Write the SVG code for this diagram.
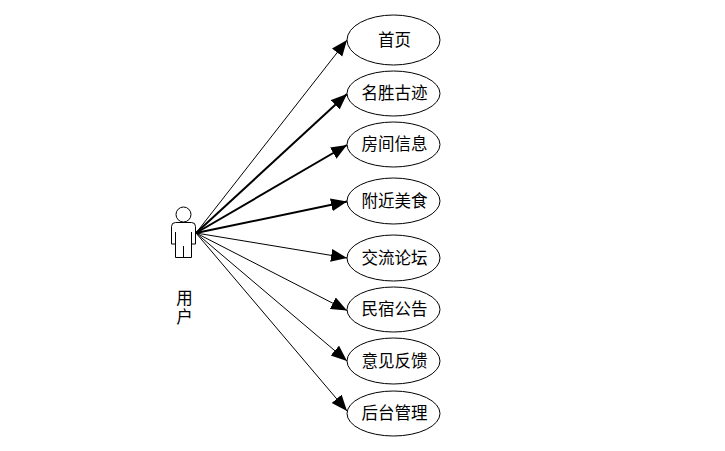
<svg xmlns="http://www.w3.org/2000/svg" width="725" height="451" viewBox="0 0 725 451">
<style>
.n{fill:#fff;stroke:#000;stroke-width:1}
.t{font-family:"Liberation Sans","Noto Sans CJK SC",sans-serif;font-size:16.500px;fill:#000;text-anchor:middle}
.c{fill:none;stroke:#000;stroke-width:1}
.b{stroke-width:2}
</style>
<defs>
<marker id="a" markerUnits="userSpaceOnUse" markerWidth="20" markerHeight="14" refX="16" refY="6.500" orient="auto"><path d="M0 0L16 6.500L0 13Z" fill="#000"/></marker>
</defs>
<rect width="725" height="451" fill="#fff"/>
<g id="connectors">
<path class="c" marker-end="url(#a)" d="M196 233L347 40"/>
<path class="c b" marker-end="url(#a)" d="M196 233L347 94"/>
<path class="c b" marker-end="url(#a)" d="M196 233L347 145"/>
<path class="c b" marker-end="url(#a)" d="M196 233L347 201.500"/>
<path class="c" marker-end="url(#a)" d="M196 233L347 258"/>
<path class="c" marker-end="url(#a)" d="M196 233L347 310.500"/>
<path class="c" marker-end="url(#a)" d="M196 233L347 361"/>
<path class="c" marker-end="url(#a)" d="M196 233L347 411"/>
</g>
<g id="actor">
<circle class="n" cx="183.5" cy="214.500" r="7.500"/>
<path class="n" d="M175.500 222.500H191.500Q195.500 222.500 195.500 226.500V244H191.500V257.500H175.500V244H171.500V226.500Q171.500 222.500 175.500 222.500Z"/>
<path class="c" d="M175.500 232V244M191.500 232V244M183.500 246V257.500"/>
<text class="t" x="184.500" y="303.500">用</text>
<text class="t" x="184.500" y="322.500">户</text>
</g>
<g id="n1"><ellipse class="n" cx="393.500" cy="40" rx="46.500" ry="25"/><text class="t" x="394.500" y="46">首页</text></g>
<g id="n2"><ellipse class="n" cx="393.500" cy="93.500" rx="46.500" ry="22.500"/><text class="t" x="394.500" y="99">名胜古迹</text></g>
<g id="n3"><ellipse class="n" cx="393.500" cy="144.500" rx="46.500" ry="22.500"/><text class="t" x="394.500" y="150">房间信息</text></g>
<g id="n4"><ellipse class="n" cx="393.500" cy="201" rx="46.500" ry="23"/><text class="t" x="394.500" y="207">附近美食</text></g>
<g id="n5"><ellipse class="n" cx="393.500" cy="258" rx="46.500" ry="23"/><text class="t" x="394.500" y="264">交流论坛</text></g>
<g id="n6"><ellipse class="n" cx="393.500" cy="309.500" rx="46.500" ry="22.500"/><text class="t" x="394.500" y="315">民宿公告</text></g>
<g id="n7"><ellipse class="n" cx="393.500" cy="361" rx="46.500" ry="23"/><text class="t" x="394.500" y="367">意见反馈</text></g>
<g id="n8"><ellipse class="n" cx="393.500" cy="413.500" rx="46.500" ry="22.500"/><text class="t" x="394.500" y="419">后台管理</text></g>
</svg>
